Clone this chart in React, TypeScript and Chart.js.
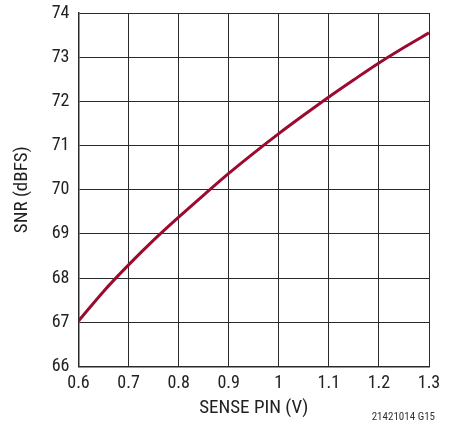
import { useEffect, useRef } from 'react';
import { Chart, registerables } from 'chart.js';

Chart.register(...registerables);

// SNR vs sense pin voltage
const SENSE_V = [0.6, 0.65, 0.7, 0.75, 0.8, 0.85, 0.9, 0.95, 1.0, 1.05, 1.1, 1.15, 1.2, 1.25, 1.3];
const SNR_DBFS = [67.03, 67.7, 68.3, 68.86, 69.38, 69.88, 70.37, 70.83, 71.27, 71.69, 72.1, 72.49, 72.87, 73.22, 73.55];

const X_TICKS = ['0.6', '0.7', '0.8', '0.9', '1', '1.1', '1.2', '1.3'];
const Y_TICKS = [66, 67, 68, 69, 70, 71, 72, 73, 74];

const FONT = '"Liberation Sans Narrow", "Roboto Condensed", "Liberation Sans", sans-serif';
const CURVE = '#9c0a2f';
const GRID = '#2a2a2a';

const footnote = {
  id: 'footnote',
  afterDraw(chart: Chart) {
    const { ctx } = chart;
    ctx.save();
    ctx.font = `11px ${FONT}`;
    ctx.fillStyle = '#333';
    ctx.textAlign = 'right';
    ctx.textBaseline = 'middle';
    ctx.fillText('21421014 G15', 435, 417);
    ctx.restore();
  },
};

export default function App() {
  const canvasRef = useRef<HTMLCanvasElement>(null);

  useEffect(() => {
    if (!canvasRef.current) return;
    const chart = new Chart(canvasRef.current, {
      type: 'line',
      data: {
        datasets: [
          {
            data: SENSE_V.map((v, i) => ({ x: v, y: SNR_DBFS[i] })),
            borderColor: CURVE,
            borderWidth: 3,
            pointRadius: 0,
            tension: 0.4,
            cubicInterpolationMode: 'monotone',
          },
        ],
      },
      options: {
        animation: false,
        responsive: false,
        devicePixelRatio: 1,
        layout: { padding: { left: 0, top: 13, right: 24, bottom: 0 } },
        plugins: { legend: { display: false }, tooltip: { enabled: false } },
        scales: {
          x: {
            type: 'linear',
            min: 0.6,
            max: 1.3,
            afterBuildTicks: (axis) => {
              axis.ticks = X_TICKS.map((t) => ({ value: Number(t) }));
            },
            afterFit: (axis) => {
              axis.height = 58.5;
            },
            ticks: {
              callback: (v) => String(Number(Number(v).toFixed(1))),
              color: '#222',
              font: { family: FONT, size: 18 },
              padding: 6,
              maxRotation: 0,
            },
            grid: { color: GRID, lineWidth: 1, drawTicks: false },
            border: { color: GRID, width: 1.5 },
            title: {
              display: true,
              text: 'SENSE PIN (V)',
              color: '#222',
              font: { family: FONT, size: 19 },
              padding: { top: 0, bottom: 5.5 },
            },
          },
          y: {
            min: 66,
            max: 74,
            afterBuildTicks: (axis) => {
              axis.ticks = Y_TICKS.map((value) => ({ value }));
            },
            afterFit: (axis) => {
              axis.width = 78.5;
              // let the layout padding alone decide where the plot top sits
              axis.paddingTop = 0;
              axis.paddingBottom = 0;
            },
            ticks: {
              color: '#222',
              font: { family: FONT, size: 18 },
              padding: 9,
            },
            grid: { color: GRID, lineWidth: 1, drawTicks: false },
            border: { color: GRID, width: 1.5 },
            title: {
              display: true,
              text: 'SNR (dBFS)',
              color: '#222',
              font: { family: FONT, size: 19 },
              padding: { top: 11, bottom: 0 },
            },
          },
        },
      },
      plugins: [footnote],
    });
    return () => chart.destroy();
  }, []);

  return (
    <div style={{ position: 'fixed', left: 0, top: 0, width: 453, height: 425, background: '#fff' }}>
      <canvas ref={canvasRef} width={453} height={425} role="img" aria-label="SNR versus sense pin voltage" />
    </div>
  );
}
